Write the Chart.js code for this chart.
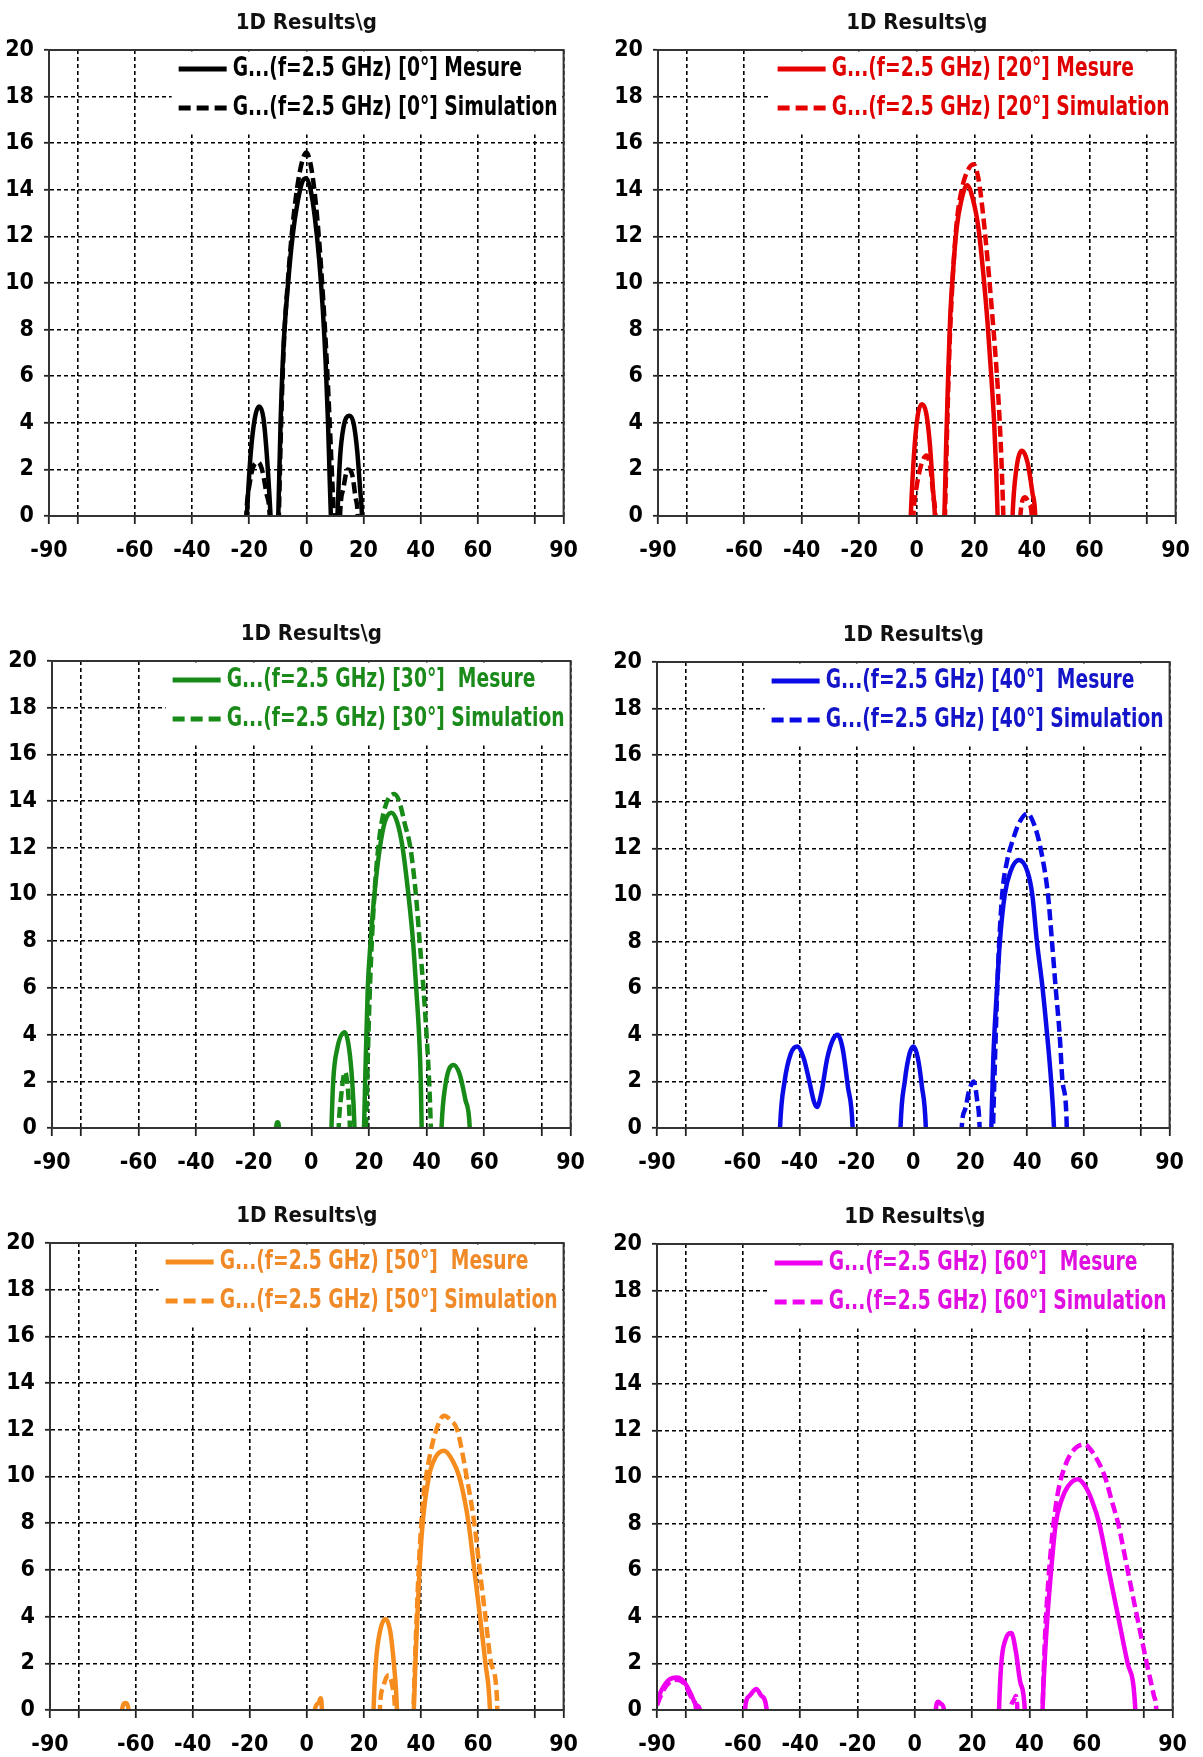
<!DOCTYPE html>
<html>
<head>
<meta charset="utf-8">
<script src="https://cdn.jsdelivr.net/npm/chart.js@4.4.1/dist/chart.umd.min.js"></script>
<style>
  body { margin: 0; background: #fff; }
  #page { position: relative; width: 1203px; height: 1757px; overflow: hidden; background: #fff; }
  #page canvas { position: absolute; }
</style>
</head>
<body>
<div id="page"></div>
<script>
const FONT = '"DejaVu Sans Condensed", "Liberation Sans", sans-serif';

// axis ticks
const xGrid = [-90, -80, -60, -40, -20, 0, 20, 40, 60, 80, 90];
const xLabelled = [-90, -60, -40, -20, 0, 20, 40, 60, 90];
const yTicks = [0, 2, 4, 6, 8, 10, 12, 14, 16, 18, 20];

const titleText = '1D Results\\g';
const mesureLabels = [
  'G...(f=2.5 GHz) [0°] Mesure',
  'G...(f=2.5 GHz) [20°] Mesure',
  'G...(f=2.5 GHz) [30°]  Mesure',
  'G...(f=2.5 GHz) [40°]  Mesure',
  'G...(f=2.5 GHz) [50°]  Mesure',
  'G...(f=2.5 GHz) [60°]  Mesure'
];
const simulationLabels = [
  'G...(f=2.5 GHz) [0°] Simulation',
  'G...(f=2.5 GHz) [20°] Simulation',
  'G...(f=2.5 GHz) [30°] Simulation',
  'G...(f=2.5 GHz) [40°] Simulation',
  'G...(f=2.5 GHz) [50°] Simulation',
  'G...(f=2.5 GHz) [60°] Simulation'
];
const lineColors = ['#000000', '#e60000', '#178a17', '#0a0ae6', '#f68c1e', '#f000f0'];
const textColors = ['#000000', '#e00000', '#1a8a1a', '#1414c8', '#f08a28', '#e010e0'];

// [angle (deg), gain]; values under 0 fall below the axis
const mes0 = [[-22,-3],[-20.8,0],[-19.5,2.6],[-18,4.2],[-16.5,4.7],[-15,4.2],[-13.8,2.6],[-12.5,0],[-11.3,-3],
  [-10.3,-3],[-9.8,0],[-9,4],[-8,7.2],[-6.5,9.8],[-4.8,12],[-3,13.5],[-1.2,14.4],[0,14.5],[1.5,14],[3,12.8],[4.5,11],[5.8,8.8],[6.8,6.5],[7.6,4],[8.2,1.5],[8.6,0],[9.4,-3],
  [10.2,-3],[10.9,0],[11.8,2.5],[13,3.8],[15,4.3],[16.5,4],[17.8,2.8],[18.8,1.2],[19.5,0],[20.3,-3]];
const sim0 = [[-21.8,-3],[-21,0],[-19.8,1.4],[-18.2,2.2],[-16.8,2.3],[-15.3,1.9],[-14,1],[-12.8,0],[-12,-3],
  [-10.2,-3],[-9.6,0],[-8.8,4],[-7.8,7.5],[-6.5,10],[-5,12.2],[-3.3,14],[-1.5,15.2],[0,15.6],[1.5,15.1],[3,13.8],[4.5,11.8],[5.8,9.5],[7,7],[8,4.5],[8.9,2],[9.6,0],[10.3,-3],
  [11.2,-3],[11.8,0],[13,1.2],[14.5,2],[16,1.8],[17.2,0.8],[18,0],[18.6,-3]];

const mes20 = [[-3,-3],[-2.1,0],[-1,2.6],[0.3,4.3],[1.8,4.8],[3.3,4.4],[4.6,3],[5.6,1.2],[6.3,0],[7,-3],
  [8.9,-3],[9.6,0],[10.2,3],[10.9,6],[11.6,8.5],[12.6,10.5],[13.8,12.3],[15.4,13.5],[17.5,14.2],[19.5,13.6],[21.5,12.3],[23.2,10.3],[24.6,8.3],[25.9,6],[26.9,4],[27.6,2],[28.1,0],[28.8,-3],
  [32.6,-3],[33.3,0],[34.5,1.9],[36.6,2.8],[38.5,2.3],[40.2,1],[41.2,0],[41.9,-3]];
const sim20 = [[-2,-3],[-1.2,0],[0,1.3],[1.8,2.3],[3.4,2.6],[4.8,2],[5.8,0.8],[6.5,0],[7.2,-3],
  [9.1,-3],[9.8,0],[10.5,3.5],[11.3,7],[12.4,10],[13.8,12.5],[15.6,14],[17.6,14.8],[19.7,15.1],[21.4,14.5],[23,13],[24.6,11],[26,9],[27.3,7],[28.5,4.8],[29.4,2.5],[30.1,0],[30.8,-3],
  [35.2,-3],[36,0],[37.6,0.8],[39.2,0.5],[40,0],[40.6,-3]];

const mes30 = [[-12.8,-3],[-12.2,0],[-11.7,0.25],[-11.2,0],[-10.6,-3],
  [6.4,-3],[7,0],[7.6,2],[9,3.4],[11.6,4.1],[13,3.5],[14.2,2],[15,0],[15.6,-3],
  [17.6,-3],[18.3,0],[18.8,2.5],[19.6,6],[20.6,8],[21.9,10],[23.8,12],[25.5,13.1],[27.8,13.5],[29.8,13.1],[31.7,12],[33.7,10],[35.3,8],[36.4,6],[37.4,4],[38,2],[38.3,0],[39,-3],
  [44.5,-3],[45.2,0],[46.5,1.8],[49.4,2.7],[51.5,2.3],[53.5,1.2],[55,0],[55.7,-3]];
const sim30 = [[8.8,-3],[9.5,0],[10.3,1.3],[11.7,2.4],[12.8,1.5],[13.4,0],[14,-3],
  [18.3,-3],[19,0],[19.6,3],[20.5,6.5],[21.8,9.8],[23.5,12.3],[25.5,13.7],[28.7,14.3],[30.5,14],[32.5,13],[34.4,12],[36.3,10],[37.6,8],[38.9,6],[40,4],[40.9,2],[41.5,0],[42.2,-3]];

const mes40 = [[-47.5,-3],[-46.8,0],[-45.2,2],[-43,3.2],[-40.7,3.5],[-38.5,3],[-36.5,2],[-34.8,1.1],[-33.8,0.9],[-32.3,1.5],[-30.2,3],[-28.2,3.8],[-26.5,4],[-24.8,3.4],[-23,1.8],[-21.3,0],[-20.6,-3],
  [-5.1,-3],[-4.5,0],[-3,2],[-1.3,3.2],[0.1,3.5],[1.6,3],[3,1.8],[4.4,0],[5,-3],
  [26.8,-3],[27.4,0],[28.1,3],[29.4,6],[30.4,8],[32.1,10],[34.1,11],[37.1,11.5],[40.1,11],[41.8,10],[43.4,8],[45.4,6],[47,4],[48.4,2],[49.4,0],[50.1,-3]];
const sim40 = [[16.4,-3],[17,0],[18.2,0.8],[19.6,1.6],[21.2,2],[22.4,1.2],[23.3,0],[23.9,-3],
  [27.4,-3],[28,0],[28.7,3],[29.8,7],[31.2,10],[33,11.5],[34.8,12.3],[37.2,13.1],[40.1,13.5],[42.5,13],[44.7,12],[47.3,10],[48.7,8],[50,6],[51.4,4],[52.4,2],[53.8,0.4],[54.3,-3]];

const mes50 = [[-65.4,-3],[-64.8,0],[-63.6,0.3],[-62.4,0],[-61.8,-3],
  [2.2,-3],[2.8,0],[4.2,0.3],[4.8,0.5],[5.3,0],[5.8,-3],
  [22.8,-3],[23.4,0],[24.2,2],[25.7,3.4],[27.6,3.9],[29.2,3.4],[30.5,2],[31.6,0],[32.2,-3],
  [36.9,-3],[37.5,0],[38.2,2.5],[39.5,6],[40.6,8],[42.8,10],[45,10.8],[48.1,11.1],[51,10.7],[53.4,10],[55.3,9],[56.7,8],[58.7,6],[60.7,4],[62.6,2],[64.2,0],[64.9,-3]];
const sim50 = [[25,-3],[25.6,0],[26.8,1],[28.7,1.5],[30,1],[30.9,0],[31.5,-3],
  [36.8,-3],[37.4,0],[38.2,3],[39.4,6.5],[40.8,9],[42.5,10.5],[45.4,12],[48.1,12.6],[50.5,12.4],[52.7,12],[56,10],[58.7,8],[60.6,6],[62.6,4],[64.6,2],[66.6,0.6],[67.3,-3]];

const mes60 = [[-90,0.4],[-88.2,0.9],[-85.8,1.3],[-83.1,1.4],[-80.5,1.2],[-78.2,0.7],[-76.2,0.2],[-75,0],[-74.3,-3],
  [-59.9,-3],[-59.3,0],[-57.8,0.6],[-55.3,0.9],[-53.5,0.6],[-51.7,0],[-51.1,-3],
  [6.8,-3],[7.3,0],[8.2,0.35],[9.3,0.25],[10.2,0],[10.8,-3],
  [28.8,-3],[29.4,0],[30.2,2],[31.6,3],[33.7,3.3],[35.3,2.5],[36.8,1.2],[38.4,0],[39,-3],
  [44,-3],[44.6,0],[45.3,2],[46.3,4],[47.6,6],[49.2,8],[51.2,9],[53.5,9.6],[56.9,9.9],[59.5,9.6],[61.8,9],[64.4,8],[67.7,6],[71,4],[74.3,2],[77,0],[77.7,-3]];
const sim60 = [[-90,0.2],[-88,0.8],[-85.5,1.2],[-83,1.3],[-80.3,1.1],[-77.8,0.5],[-76.3,0],[-75.5,-3],
  [32.8,-3],[33.5,0],[34.5,0.4],[35.3,0.6],[35.8,0],[36.4,-3],
  [44,-3],[44.6,0],[45.4,3],[46.6,5.5],[48,7.5],[49.5,9],[51.2,10],[54.5,11],[59.1,11.4],[62.4,11],[66.4,10],[68.7,9],[71,8],[74.3,6],[77.6,4],[81,2],[83.5,0.6],[84.3,0],[85,-3]];

const mesures = [mes0, mes20, mes30, mes40, mes50, mes60];
const simulations = [sim0, sim20, sim30, sim40, sim50, sim60];

// plot area of each panel on the page: [left, top, width, height]
const panels = [
  [49, 51, 522, 465], [658, 51, 525, 465],
  [52, 662, 526, 466], [657, 663, 520, 465],
  [50, 1244, 521, 466], [657, 1245, 523, 465]
];
const TITLE_H = 52, Y_AXIS_W = 50, X_AXIS_H = 50, PAD_R = 20;

const tickFont = { family: FONT, size: 23, weight: 'bold', lineHeight: 1.2 };

// box round the plot area
const framePlugin = {
  id: 'frame',
  afterDraw(chart) {
    const { ctx, chartArea: a } = chart;
    ctx.save();
    ctx.strokeStyle = '#333';
    ctx.lineWidth = 2;
    ctx.strokeRect(a.left, a.top, a.right - a.left, a.bottom - a.top);
    ctx.restore();
  }
};

// legend drawn inside the plot, top right, on a white patch
const insetLegend = {
  id: 'insetLegend',
  beforeDatasetsDraw(chart, args, opts) {
    const { ctx, chartArea: a } = chart;
    const sets = chart.data.datasets;
    ctx.save();
    ctx.font = `bold ${opts.size}px ${FONT}`;
    const textW = opts.squeeze * Math.max(...sets.map(d => ctx.measureText(d.label).width));
    const sample = 48, gap = 6;
    const textX = a.right - 6 - textW;
    const lineX = textX - gap - sample;
    ctx.fillStyle = '#fff';
    ctx.fillRect(lineX - 7, a.top + 1.5, a.right - 1.5 - (lineX - 7), 83);
    sets.forEach((d, i) => {
      const y = a.top + 19 + i * 39;
      ctx.strokeStyle = d.borderColor;
      ctx.lineWidth = 5;
      ctx.setLineDash(d.borderDash ? [12, 6] : []);
      ctx.beginPath();
      ctx.moveTo(lineX, y);
      ctx.lineTo(lineX + sample, y);
      ctx.stroke();
      ctx.save();
      ctx.translate(textX, y);
      ctx.scale(opts.squeeze, 1);
      ctx.fillStyle = opts.color;
      ctx.textAlign = 'left';
      ctx.textBaseline = 'middle';
      ctx.fillText(d.label, 0, 0);
      ctx.restore();
    });
    ctx.restore();
  }
};

const toPoints = arr => arr.map(([x, y]) => ({ x, y }));
const page = document.getElementById('page');

panels.forEach(([L, T, W, H], i) => {
  const canvas = document.createElement('canvas');
  canvas.width = Y_AXIS_W + W + PAD_R;
  canvas.height = TITLE_H + H + X_AXIS_H;
  canvas.style.left = (L - Y_AXIS_W) + 'px';
  canvas.style.top = (T - TITLE_H) + 'px';
  page.appendChild(canvas);

  new Chart(canvas, {
    type: 'line',
    data: {
      datasets: [
        {
          label: mesureLabels[i], data: toPoints(mesures[i]),
          borderColor: lineColors[i], borderWidth: 4.5, pointRadius: 0,
          cubicInterpolationMode: 'monotone', fill: false
        },
        {
          label: simulationLabels[i], data: toPoints(simulations[i]),
          borderColor: lineColors[i], borderWidth: 4.5, pointRadius: 0,
          borderDash: [11, 5], cubicInterpolationMode: 'monotone', fill: false
        }
      ]
    },
    options: {
      responsive: false, animation: false,
      layout: { padding: { left: 0, right: PAD_R, top: 0, bottom: 0 } },
      scales: {
        x: {
          type: 'linear', min: -90, max: 90,
          afterBuildTicks: s => { s.ticks = xGrid.map(v => ({ value: v })); },
          afterFit: s => { s.height = X_AXIS_H; },
          ticks: {
            autoSkip: false, maxRotation: 0, padding: 13, color: '#000', font: tickFont,
            callback: v => xLabelled.includes(v) ? String(v) : ''
          },
          grid: { color: '#000', lineWidth: 1.6, tickLength: 8, tickColor: '#222', tickWidth: 1.8 },
          border: { color: '#333', width: 2, dash: [4, 3] }
        },
        y: {
          min: 0, max: 20,
          afterBuildTicks: s => { s.ticks = yTicks.map(v => ({ value: v })); },
          afterFit: s => { s.width = Y_AXIS_W; },
          ticks: { padding: 10, color: '#000', font: tickFont },
          grid: { color: '#000', lineWidth: 1.6, tickLength: 5, tickColor: '#222', tickWidth: 1.8 },
          border: { color: '#333', width: 2, dash: [4, 3] }
        }
      },
      plugins: {
        legend: { display: false },
        tooltip: { enabled: false },
        title: {
          display: true, text: titleText, fullSize: false, color: '#111',
          font: { family: FONT, size: 22, weight: 'bold', lineHeight: 1.2 },
          padding: { top: 11, bottom: 13.6 }
        },
        insetLegend: { color: textColors[i], size: 26, squeeze: 0.8 }
      }
    },
    plugins: [framePlugin, insetLegend]
  });
});
</script>
</body>
</html>
